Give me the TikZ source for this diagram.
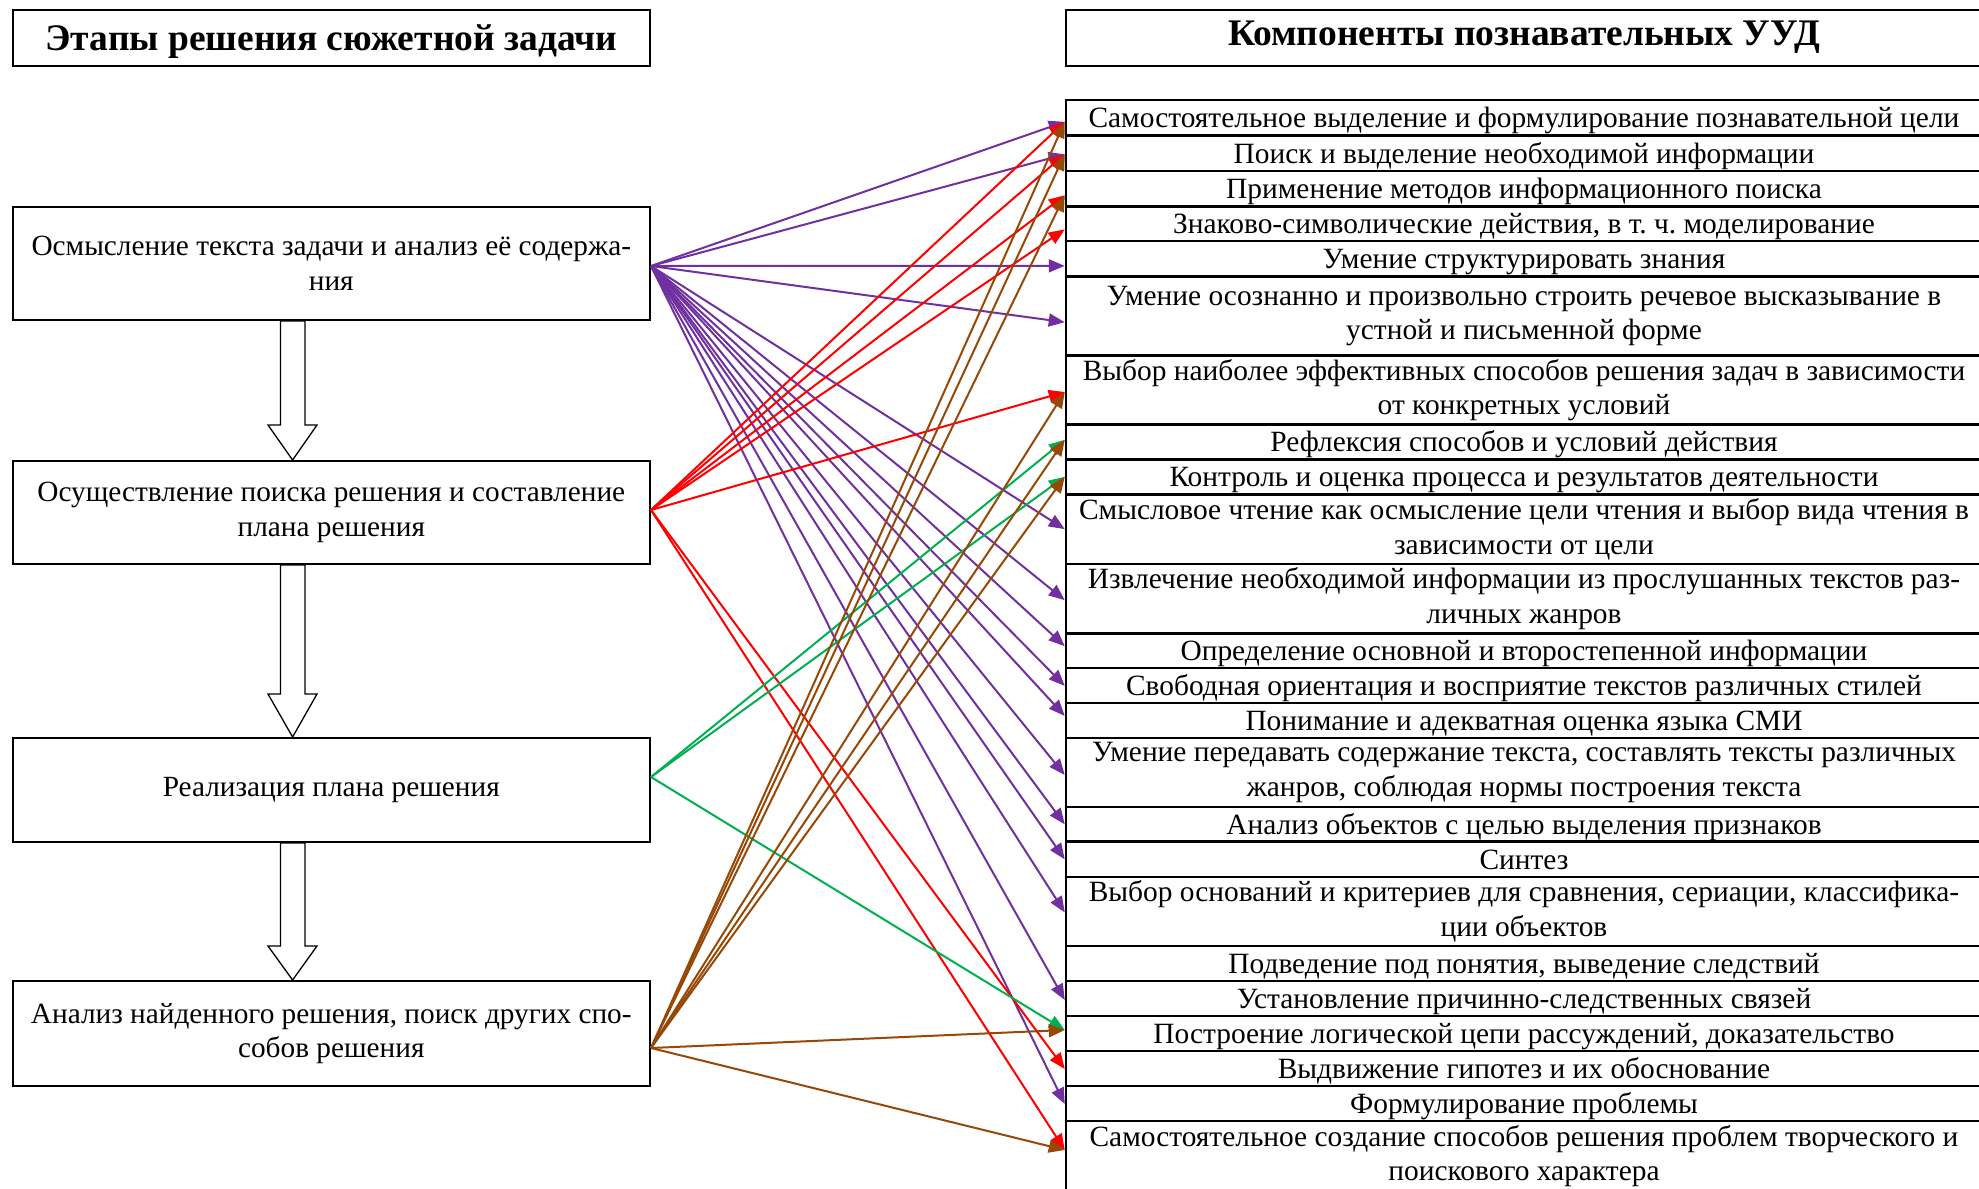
\documentclass[tikz,border=0pt]{standalone}
\usepackage{fontspec}
\setmainfont{Liberation Serif}
\usetikzlibrary{arrows.meta,calc}
\definecolor{cpurple}{HTML}{7030A0}
\definecolor{cred}{HTML}{FF0000}
\definecolor{cgreen}{HTML}{00B050}
\definecolor{cbrown}{HTML}{974806}
\frenchspacing
\begin{document}
\begin{tikzpicture}[x=1pt,y=-1pt,
  stage/.style={draw,line width=2pt,minimum width=637.4pt,align=center,inner sep=0pt,font=\fontsize{29.3}{34.5}\selectfont},
  ttlbox/.style={draw,line width=2pt,inner sep=0pt,align=center,font=\bfseries\fontsize{37.5}{42}\selectfont},
  urow/.style={draw,line width=2.5pt,minimum width=916pt,align=center,inner sep=0pt,font=\fontsize{29.4}{34.5}\selectfont},
  urowone/.style={urow,text height=21pt,text depth=1pt},
  conn/.style={line width=2pt,-{Triangle[length=16pt,width=13pt]}},
  parr/.style={conn,draw=cpurple,fill=cpurple},
  rarr/.style={conn,draw=cred,fill=cred},
  garr/.style={conn,draw=cgreen,fill=cgreen},
  barr/.style={conn,draw=cbrown,fill=cbrown},
  blockarr/.style={draw,line width=1.3pt,fill=white,line join=miter}
]
\useasboundingbox (0,0) rectangle (1979,1189);

% titles
\node[ttlbox,minimum width=637.4pt,minimum height=56pt,text height=30pt,text depth=6pt] (tl) at (331.3,38) {Этапы решения сюжетной задачи};
\node[ttlbox,minimum width=916pt,minimum height=56pt,text height=25pt,text depth=11pt] (tr) at (1524,38) {Компоненты познавательных УУД};

% stages
\node[stage,minimum height=113pt] (s1) at (331.3,263.5) {Осмысление текста задачи и анализ её содержа-\\ния};
\node[stage,minimum height=103pt] (s2) at (331.3,512.5) {Осуществление поиска решения и составление\\плана решения};
\node[stage,minimum height=104pt] (s3) at (331.3,790) {Реализация плана решения};
\node[stage,minimum height=105pt] (s4) at (331.3,1033.5) {Анализ найденного решения, поиск других спо-\\собов решения};

% block arrows
\foreach \a/\b/\h in {s1/s2/35,s2/s3/43,s3/s4/34}{
  \draw[blockarr] (280.4,0 |- \a.south) -- ($(280.4,0 |- \b.north)+(0,-\h)$) -- ($(268,0 |- \b.north)+(0,-\h)$)
    -- (292.6,0 |- \b.north) -- ($(317,0 |- \b.north)+(0,-\h)$) -- ($(305,0 |- \b.north)+(0,-\h)$)
    -- (305,0 |- \a.south) -- cycle;
}

% table rows
\node[urowone,minimum height=35.7pt] (r1) at (1524,117.85) {Самостоятельное выделение и формулирование познавательной цели};
\node[urowone,minimum height=35.3pt] (r2) at (1524,153.35) {Поиск и выделение необходимой информации};
\node[urowone,minimum height=35.7pt] (r3) at (1524,188.85) {Применение методов информационного поиска};
\node[urowone,minimum height=34.3pt] (r4) at (1524,223.85) {Знаково-символические действия, в т.~ч. моделирование};
\node[urowone,minimum height=35.7pt] (r5) at (1524,258.85) {Умение структурировать знания};
\node[urow,minimum height=79pt] (r6) at (1524,316.2) {Умение осознанно и произвольно строить речевое высказывание в\\устной и письменной форме};
\node[urow,minimum height=68.6pt] (r7) at (1524,390) {Выбор наиболее эффективных способов решения задач в зависимости\\от конкретных условий};
\node[urowone,minimum height=35pt] (r8) at (1524,441.8) {Рефлексия способов и условий действия};
\node[urowone,minimum height=35pt] (r9) at (1524,476.8) {Контроль и оценка процесса и результатов деятельности};
\node[urow,minimum height=69.7pt] (r10) at (1524,529.15) {Смысловое чтение как осмысление цели чтения и выбор вида чтения в\\зависимости от цели};
\node[urow,minimum height=69.3pt] (r11) at (1524,598.65) {Извлечение необходимой информации из прослушанных текстов раз-\\личных жанров};
\node[urowone,minimum height=34.7pt] (r12) at (1524,650.65) {Определение основной и второстепенной информации};
\node[urowone,minimum height=34.8pt] (r13) at (1524,685.4) {Свободная ориентация и восприятие текстов различных стилей};
\node[urowone,minimum height=35.2pt] (r14) at (1524,720.4) {Понимание и адекватная оценка языка СМИ};
\node[urow,minimum height=69pt] (r15) at (1524,772.5) {Умение передавать содержание текста, составлять тексты различных\\жанров, соблюдая нормы построения текста};
\node[urowone,minimum height=34.7pt] (r16) at (1524,824.35) {Анализ объектов с целью выделения признаков};
\node[urowone,minimum height=35.3pt] (r17) at (1524,859.35) {Синтез};
\node[urow,minimum height=68.8pt] (r18) at (1524,911.4) {Выбор оснований и критериев для сравнения, сериации, классифика-\\ции объектов};
\node[urowone,minimum height=35.2pt] (r19) at (1524,963.4) {Подведение под понятия, выведение следствий};
\node[urowone,minimum height=35pt] (r20) at (1524,998.5) {Установление причинно-следственных связей};
\node[urowone,minimum height=35pt] (r21) at (1524,1033.5) {Построение логической цепи рассуждений, доказательство};
\node[urowone,minimum height=35pt] (r22) at (1524,1068.5) {Выдвижение гипотез и их обоснование};
\node[urowone,minimum height=35pt] (r23) at (1524,1103.5) {Формулирование проблемы};
\node[urow,minimum height=70pt] (r24) at (1524,1156) {Самостоятельное создание способов решения проблем творческого и\\поискового характера};

% sources
\coordinate (o1) at ([yshift=-2.5pt]s1.east);
\coordinate (o2) at ([yshift=2.5pt]s2.east);
\coordinate (o3) at ([yshift=13pt]s3.east);
\coordinate (o4) at ([yshift=-14.5pt]s4.east);

% targets
\foreach \i/\s in {1/-4,2/-1,3/-6.5,4/-5.5,5/-7,6/-6,7/-2,8/2,9/0,10/0,11/-1.5,12/4.5,13/-0.5,14/4.5,15/-2.5,16/0,17/0,18/-1,20/-1.5,21/3.5,22/-0.5,23/-0.5,24/6}{
  \coordinate (t\i) at ([yshift=\s pt]r\i.west);
}

\foreach \i in {1,2,5,6,10,11,12,13,14,15,16,17,18,20,23}{\draw[parr] (o1) -- (t\i);}
\foreach \i in {1,2,3,4,7,22,24}{\draw[rarr] (o2) -- (t\i);}
\foreach \i in {8,9,21}{\draw[garr] (o3) -- (t\i);}
\foreach \i in {1,2,3,7,8,9,21,24}{\draw[barr] (o4) -- (t\i);}
\end{tikzpicture}
\end{document}
